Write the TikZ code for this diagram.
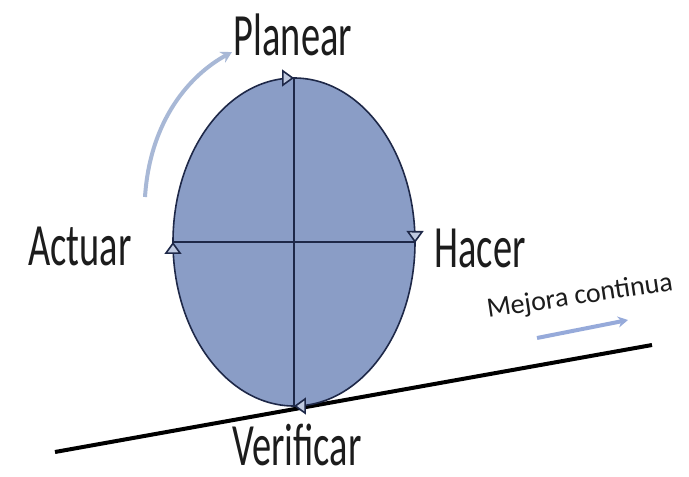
\documentclass[tikz,border=0pt]{standalone}
\usepackage{fontspec}
\setmainfont{Carlito}
\usetikzlibrary{
    positioning,
    arrows.meta,
    decorations.markings,
}
\definecolor{cicloazul}{RGB}{138,157,198}
\definecolor{bordeazul}{RGB}{30,40,72}
\definecolor{flechaazul}{RGB}{168,184,214}
\definecolor{avanceazul}{RGB}{150,170,218}
\definecolor{tinta}{RGB}{28,28,28}
\newcommand{\estrecho}[1]{\scalebox{0.64}[1]{#1}}
\tikzset{
    % Tip and cycle styles
    punta/.tip={Triangle[length=12pt, width=17pt, fill=cicloazul!55!white]},
    ciclo/.style={draw=bordeazul, line width=1.6pt, fill=cicloazul,
                  postaction={decorate, decoration={markings,
                      mark=at position 0.001 with {\arrow{punta}},
                      mark=at position 0.25 with {\arrow{punta}},
                      mark=at position 0.5 with {\arrow{punta}},
                      mark=at position 0.75 with {\arrow{punta}}}}},
    eje/.style={draw=bordeazul, line width=1.4pt},
    % Text styles
    etapa/.style={font=\fontsize{60}{60}\selectfont, text=tinta, inner sep=0pt, anchor=base},
}

\begin{document}
\begin{tikzpicture}[
    x=1pt, y=-1pt,
    flecha/.style={-{Stealth[length=11pt, width=12pt]}, line width=4pt, flechaazul},
    avance/.style={-{Stealth[length=10pt, width=11pt]}, line width=4pt, avanceazul},
]
    \useasboundingbox (0,0) rectangle (689,477);

    % Rampa
    \coordinate (rampa izq) at (55,452);
    \coordinate (rampa der) at (652,345);
    \draw[line width=4pt, black] (rampa izq) -- (rampa der);

    % Ciclo
    \coordinate (centro) at (294,242);
    \draw[ciclo] (centro) ellipse [x radius=121, y radius=164];
    \coordinate (arriba) at (294,78);
    \coordinate (abajo) at (294,406);
    \coordinate (izq) at (173,242);
    \coordinate (der) at (415,242);
    \draw[eje] (arriba) -- (abajo);
    \draw[eje] (izq) -- (der);

    % Etapas
    \node[etapa] (planear) at (293,55) {\estrecho{Planear}};
    \node[etapa] (hacer) at (480,267) {\estrecho{Hacer}};
    \node[etapa] (verificar) at (297,465) {\estrecho{Verificar}};
    \node[etapa] (actuar) at (80,265) {\estrecho{Actuar}};

    % Giro
    \coordinate (giro ini) at (145,197);
    \coordinate (giro fin) at (232,52);
    \draw[flecha] (giro ini) .. controls (150,120) and (190,75) .. (giro fin);

    % Mejora continua
    \node[font=\fontsize{28}{28}\selectfont, text=tinta, inner sep=0pt, anchor=base, rotate=8.5]
        (mejora) at (581,304) {Mejora continua};
    \coordinate (avance ini) at (537,338);
    \coordinate (avance fin) at (628,320);
    \draw[avance] (avance ini) -- (avance fin);
\end{tikzpicture}
\end{document}
